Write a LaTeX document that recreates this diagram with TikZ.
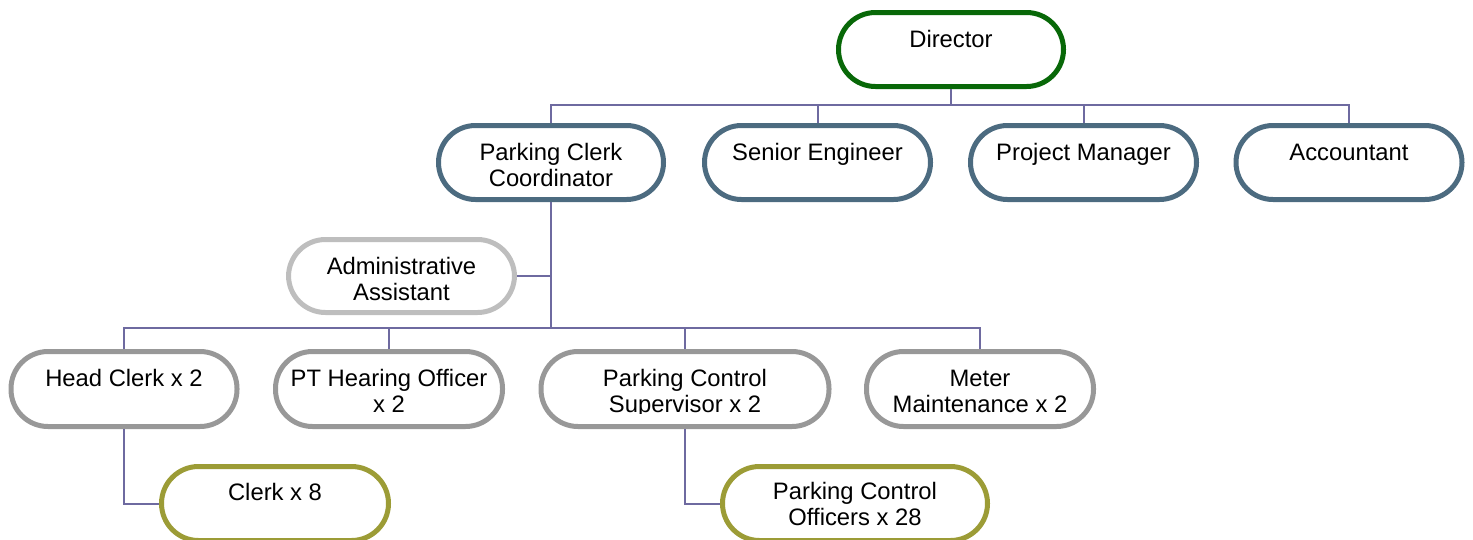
\documentclass[tikz,border=0pt]{standalone}
\usepackage{fontspec}
\setmainfont{Liberation Sans}
\definecolor{dirgreen}{RGB}{8,104,8}
\definecolor{mgrblue}{RGB}{76,107,128}
\definecolor{asstgray}{RGB}{190,190,190}
\definecolor{staffgray}{RGB}{152,152,152}
\definecolor{olive}{RGB}{156,156,54}
\definecolor{wire}{RGB}{110,106,160}
\tikzset{
  pill/.style={draw, line width=5pt, fill=white, inner sep=0pt,
    rounded corners=37pt, minimum height=74pt},
  lbl/.style={inner sep=0pt, align=center, anchor=base,
    font=\fontsize{23.8}{26}\selectfont},
  conn/.style={draw=wire, line width=2pt},
}
\begin{document}
\begin{tikzpicture}[x=1pt,y=-1pt]
\useasboundingbox (0,0) rectangle (1473,539);
% boxes
\node[pill, draw=dirgreen, minimum width=225pt] (dir) at (951,49.5) {};
\node[pill, draw=mgrblue, minimum width=225pt] (pcc) at (551,162.5) {};
\node[pill, draw=mgrblue, minimum width=226pt] (se)  at (817.5,162.5) {};
\node[pill, draw=mgrblue, minimum width=226pt] (pm)  at (1083.5,162.5) {};
\node[pill, draw=mgrblue, minimum width=226pt] (acc) at (1349,162.5) {};
\node[pill, draw=asstgray, minimum width=226pt, minimum height=73pt] (adm) at (401.5,276) {};
\node[pill, draw=staffgray, minimum width=226pt, minimum height=75pt] (hc)  at (124,389) {};
\node[pill, draw=staffgray, minimum width=227pt, minimum height=75pt] (pt)  at (389,389) {};
\node[pill, draw=staffgray, minimum width=288pt, minimum height=75pt] (pcs) at (685,389) {};
\node[pill, draw=staffgray, minimum width=227pt, minimum height=75pt] (mm)  at (980,389) {};
\node[pill, draw=olive, minimum width=227pt] (clerk) at (275,503.5) {};
\node[pill, draw=olive, minimum width=265pt] (pco)   at (855,503.5) {};
% connectors
\coordinate (busA) at (0,105);
\coordinate (busB) at (0,328);
\draw[conn] (dir.south) -- (dir.south |- busA);
\draw[conn] (pcc.north) -- (pcc.north |- busA) -- (acc.north |- busA) -- (acc.north);
\draw[conn] (se.north) -- (se.north |- busA);
\draw[conn] (pm.north) -- (pm.north |- busA);
\draw[conn] (pcc.south) -- (pcc.south |- busB);
\draw[conn] (adm.east) -- (adm.east -| pcc.south);
\draw[conn] (hc.north) -- (hc.north |- busB) -- (mm.north |- busB) -- (mm.north);
\draw[conn] (pt.north) -- (pt.north |- busB);
\draw[conn] (pcs.north) -- (pcs.north |- busB);
\draw[conn] (hc.south) |- (clerk.west);
\draw[conn] (pcs.south) |- (pco.west);
% labels (base anchor sits on the last line, so two-line labels go one line lower)
\node[lbl] (dirT) at ([yshift=-37pt]dir.north) {Director};
\node[lbl] (seT)  at ([yshift=-37pt]se.north) {Senior Engineer};
\node[lbl] (pmT)  at ([yshift=-37pt]pm.north) {Project Manager};
\node[lbl] (accT) at ([yshift=-37pt]acc.north) {Accountant};
\node[lbl] (hcT)  at ([yshift=-37pt]hc.north) {Head Clerk x 2};
\node[lbl] (clerkT) at ([yshift=-36pt]clerk.north) {Clerk x 8};
% two-line labels: the second line is cut off just below its baseline
\begin{scope}
  \clip (pcc.north west) rectangle ([yshift=-64pt]pcc.east |- pcc.north);
  \node[lbl] (pccT) at ([yshift=-63pt]pcc.north) {Parking Clerk\\Coordinator};
\end{scope}
\begin{scope}
  \clip (adm.north west) rectangle ([yshift=-64pt]adm.east |- adm.north);
  \node[lbl] (admT) at ([yshift=-63pt]adm.north) {Administrative\\Assistant};
\end{scope}
\begin{scope}
  \clip (pt.north west) rectangle ([yshift=-64pt]pt.east |- pt.north);
  \node[lbl] (ptT)  at ([yshift=-63pt]pt.north) {PT Hearing Officer\\x 2};
\end{scope}
\begin{scope}
  \clip (pcs.north west) rectangle ([yshift=-64pt]pcs.east |- pcs.north);
  \node[lbl] (pcsT) at ([yshift=-63pt]pcs.north) {Parking Control\\Supervisor x 2};
\end{scope}
\begin{scope}
  \clip (mm.north west) rectangle ([yshift=-64pt]mm.east |- mm.north);
  \node[lbl] (mmT)  at ([yshift=-63pt]mm.north) {Meter\\Maintenance x 2};
\end{scope}
\begin{scope}
  \clip (pco.north west) rectangle ([yshift=-62pt]pco.east |- pco.north);
  \node[lbl] (pcoT)   at ([yshift=-61pt]pco.north) {Parking Control\\Officers x 28};
\end{scope}
\end{tikzpicture}
\end{document}
